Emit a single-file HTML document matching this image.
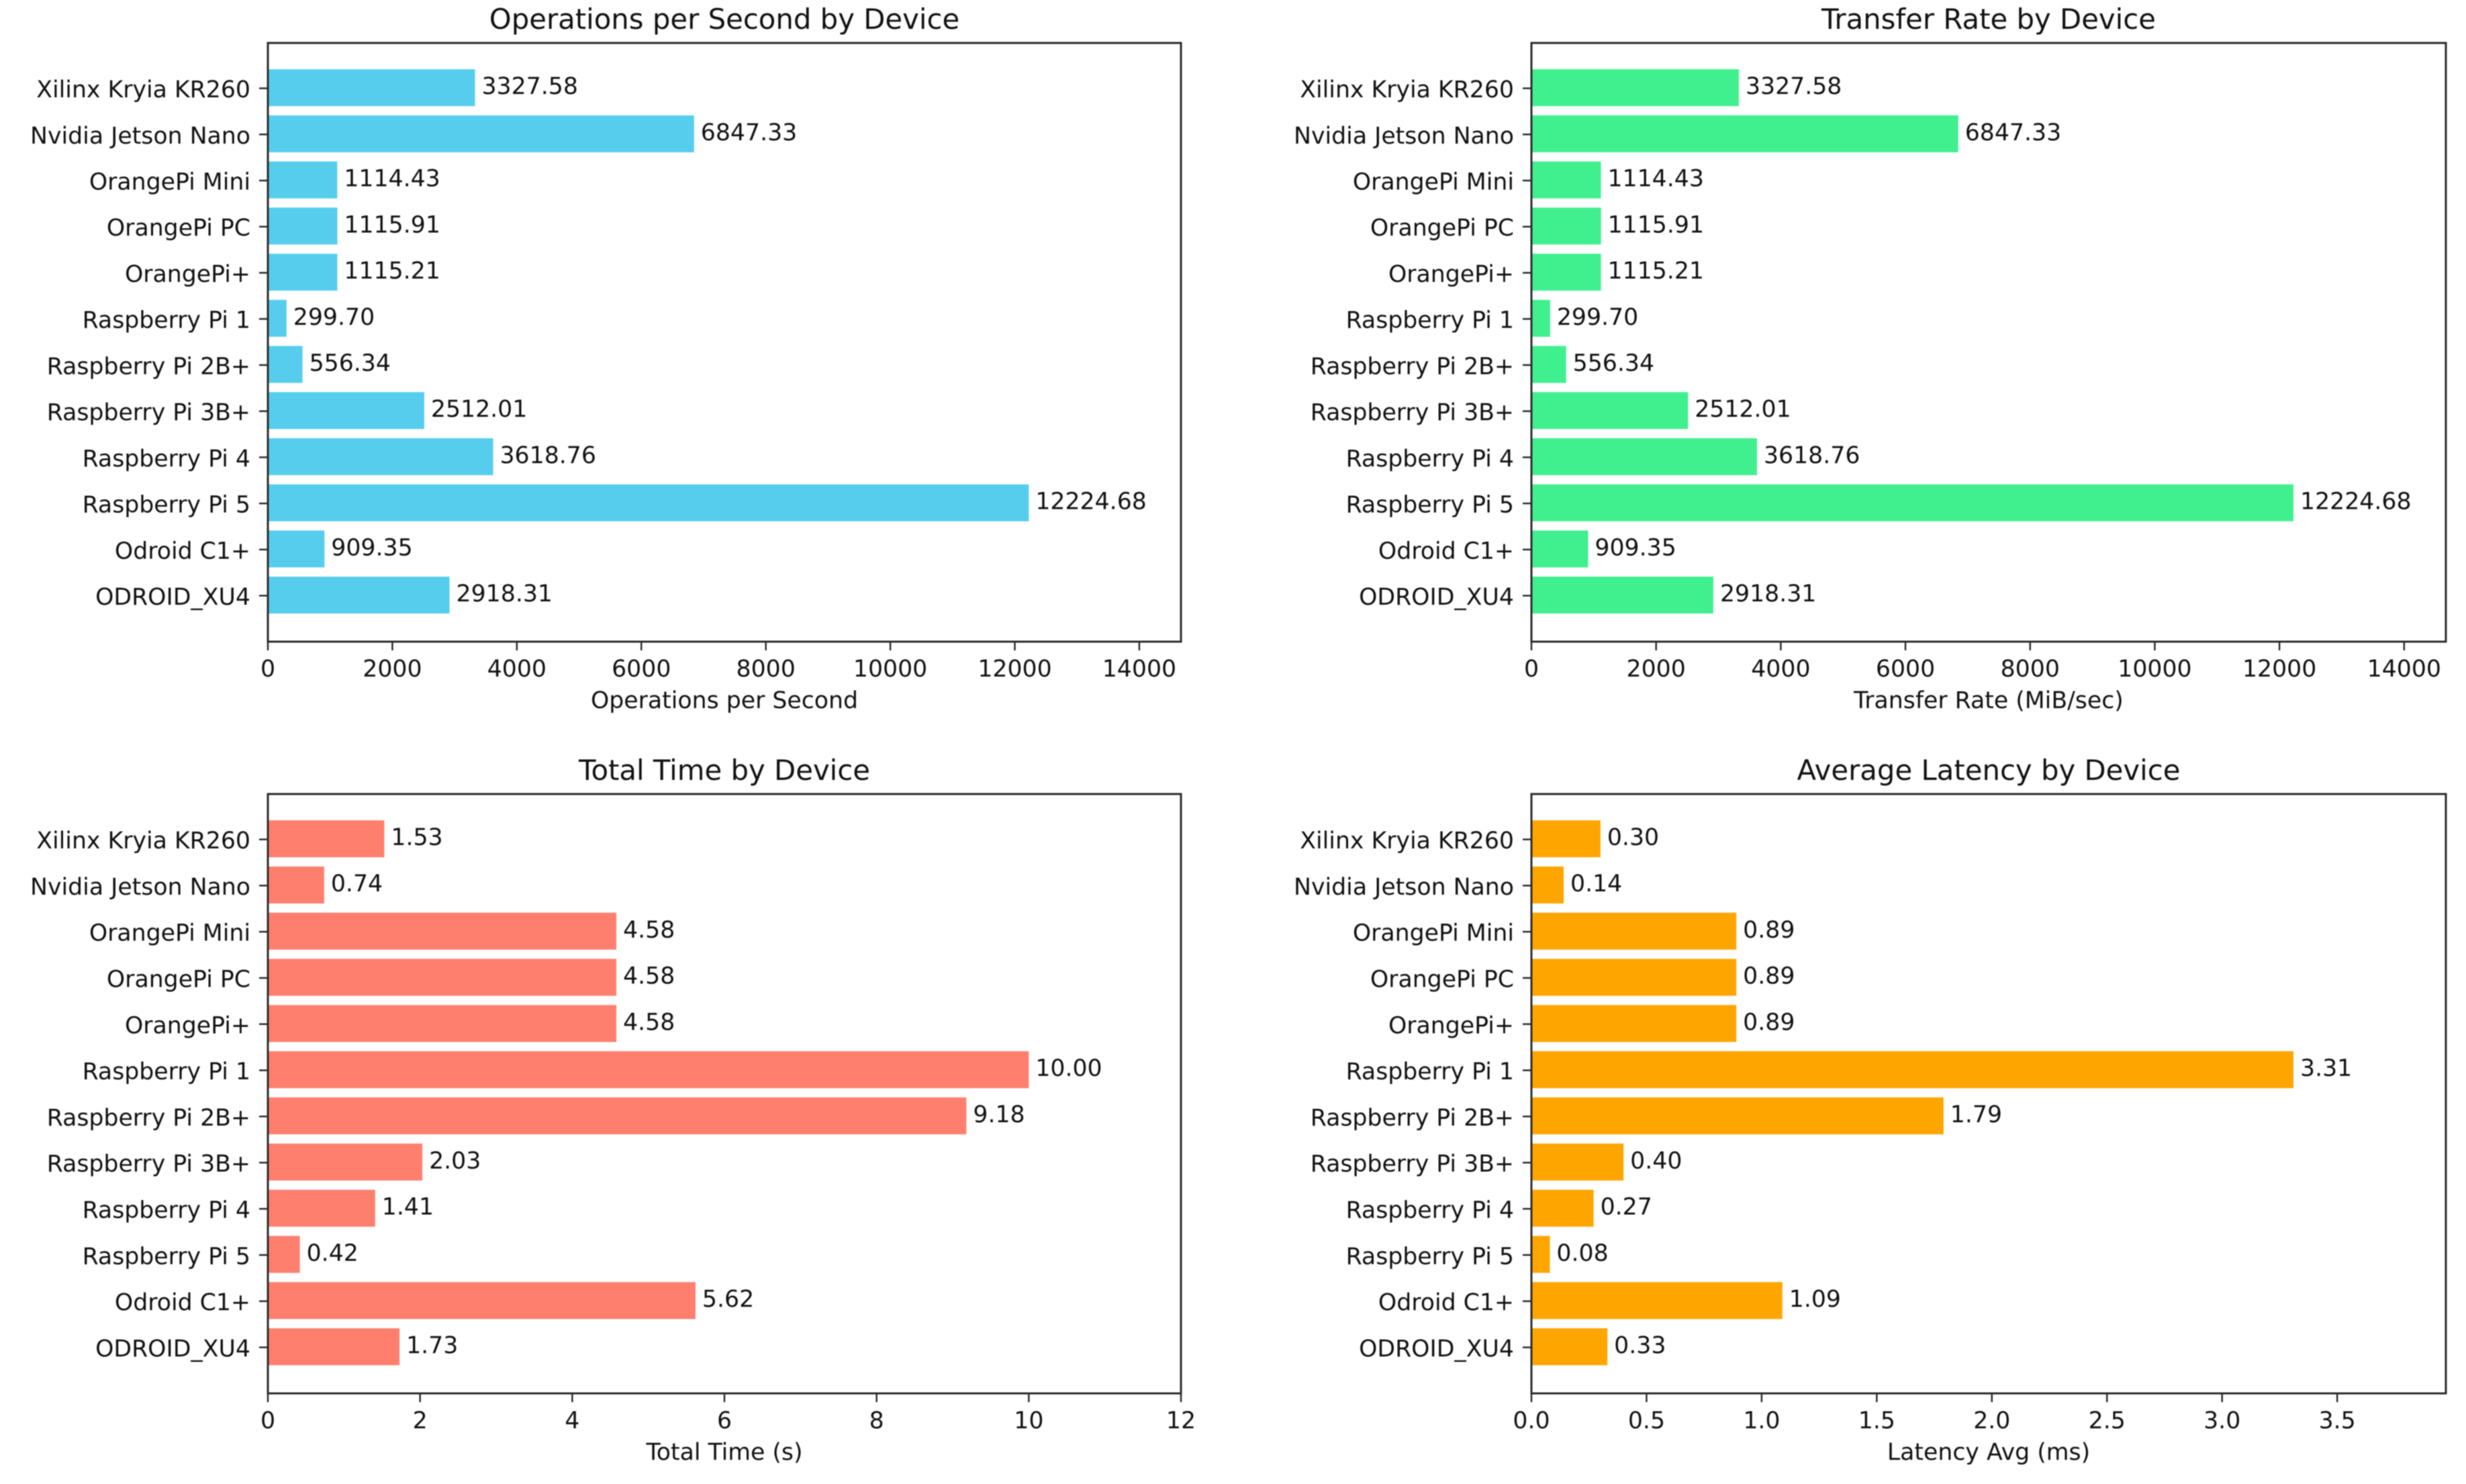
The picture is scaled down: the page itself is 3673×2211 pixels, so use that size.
<!DOCTYPE html>
<html lang="en">
<head>
<meta charset="utf-8">
<title>Device Benchmark Charts</title>
<style>
html,body{margin:0;padding:0;background:#fff;width:3673px;height:2211px;overflow:hidden}
svg{display:block;filter:blur(0.9px)}
text{font-family:"DejaVu Sans","Liberation Sans",sans-serif;fill:#111}
</style>
</head>
<body>
<svg id="figure" xmlns="http://www.w3.org/2000/svg" width="3673" height="2211" viewBox="0 0 3673 2211"></svg>
<script>
const devices = ["Xilinx Kryia KR260","Nvidia Jetson Nano","OrangePi Mini","OrangePi PC","OrangePi+","Raspberry Pi 1","Raspberry Pi 2B+","Raspberry Pi 3B+","Raspberry Pi 4","Raspberry Pi 5","Odroid C1+","ODROID_XU4"];
const opsValues = [3327.58,6847.33,1114.43,1115.91,1115.21,299.70,556.34,2512.01,3618.76,12224.68,909.35,2918.31];
const transferValues = [3327.58,6847.33,1114.43,1115.91,1115.21,299.70,556.34,2512.01,3618.76,12224.68,909.35,2918.31];
const timeValues = [1.53,0.74,4.58,4.58,4.58,10.00,9.18,2.03,1.41,0.42,5.62,1.73];
const latencyValues = [0.30,0.14,0.89,0.89,0.89,3.31,1.79,0.40,0.27,0.08,1.09,0.33];
const opsTicks = ["0","2000","4000","6000","8000","10000","12000","14000"];
const transferTicks = ["0","2000","4000","6000","8000","10000","12000","14000"];
const timeTicks = ["0","2","4","6","8","10","12"];
const latencyTicks = ["0.0","0.5","1.0","1.5","2.0","2.5","3.0","3.5"];

const NS = "http://www.w3.org/2000/svg";
const fig = document.getElementById("figure");

function mk(parent, tag, attrs, txt) {
  const el = document.createElementNS(NS, tag);
  for (const k in attrs) el.setAttribute(k, attrs[k]);
  if (txt !== undefined) el.textContent = txt;
  parent.appendChild(el);
  return el;
}

function drawPanel(key, box, title, xlabel, values, ticks, color) {
  const g = mk(fig, "g", {});
  
  

  const xMax = Math.max.apply(null, values) * 1.2;
  const xScale = v => box.left + (v / xMax) * (box.right - box.left);
  const unit = (box.bottom - box.top) / 12.98;
  const yScale = i => box.top + (i + 0.97) * unit;
  const barH = 0.8 * unit;

  const titleEl = mk(g, "text", {x:(box.left+box.right)/2, y:box.top-21, "text-anchor":"middle", "font-size":41.8}, title);
  
  

  values.forEach((v, i) => {
    const bar = mk(g, "rect", {x:box.left, y:yScale(i)-barH/2, width:xScale(v)-box.left, height:barH, fill:color});
    
    

    const val = mk(g, "text", {x:xScale(v)+10, y:yScale(i)+9.5, "font-size":34.7}, v.toFixed(2));
    
    

    const tick = mk(g, "line", {x1:box.left-13, x2:box.left, y1:yScale(i)+0.9, y2:yScale(i)+0.9, stroke:"#222", "stroke-width":2.4});
    
    

    const lab = mk(g, "text", {x:box.left-26, y:yScale(i)+14.4, "text-anchor":"end", "font-size":34.7}, devices[i]);
    
    
  });

  ticks.forEach(t => {
    const px = xScale(parseFloat(t));
    const tick = mk(g, "line", {x1:px, x2:px, y1:box.bottom, y2:box.bottom+13, stroke:"#222", "stroke-width":2.4});
    
    

    const lab = mk(g, "text", {x:px, y:box.bottom+52, "text-anchor":"middle", "font-size":34.7}, t);
    
    
  });

  const frame = mk(g, "rect", {x:box.left, y:box.top, width:box.right-box.left, height:box.bottom-box.top, fill:"none", stroke:"#2a2a2a", "stroke-width":3});
  
  

  const xl = mk(g, "text", {x:(box.left+box.right)/2, y:box.bottom+99, "text-anchor":"middle", "font-size":34.7}, xlabel);
  
  
}

drawPanel("operations", {left:399,right:1759,top:64,bottom:956}, "Operations per Second by Device", "Operations per Second", opsValues, opsTicks, "#56CDED");
drawPanel("transfer", {left:2281,right:3643,top:64,bottom:956}, "Transfer Rate by Device", "Transfer Rate (MiB/sec)", transferValues, transferTicks, "#40F08E");
drawPanel("total-time", {left:399,right:1759,top:1183,bottom:2076}, "Total Time by Device", "Total Time (s)", timeValues, timeTicks, "#FF7F6E");
drawPanel("latency", {left:2281,right:3643,top:1183,bottom:2076}, "Average Latency by Device", "Latency Avg (ms)", latencyValues, latencyTicks, "#FFA500");
</script>
</body>
</html>
